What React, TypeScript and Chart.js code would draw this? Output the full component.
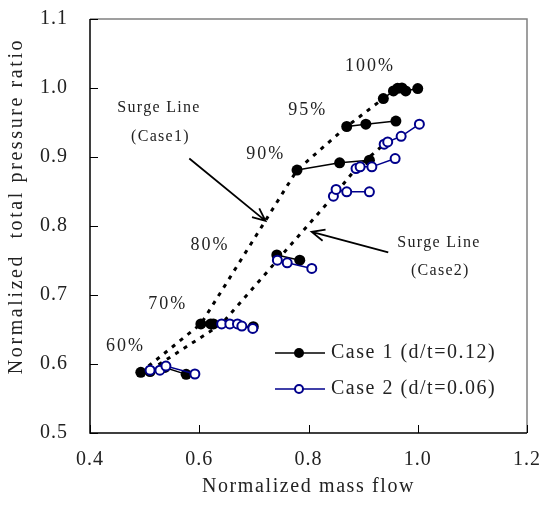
import React, { useEffect, useRef } from "react";
import { Chart, registerables } from "chart.js";

Chart.register(...registerables);

const FONT = '"Liberation Serif", "Times New Roman", serif';
const NAVY = "#00008c";

// Axis ticks
const xTickValues = [0.4, 0.6, 0.8, 1.0, 1.2];
const yTickValues = [0.5, 0.6, 0.7, 0.8, 0.9, 1.0, 1.1];

// Case 1 (d/t=0.12) speed lines: [mass flow, pressure ratio]
const case1Speed60: [number, number][] = [[0.493, 0.588], [0.51, 0.589], [0.537, 0.595], [0.576, 0.585]];
const case1Speed70: [number, number][] = [[0.603, 0.658], [0.621, 0.658], [0.626, 0.658], [0.699, 0.654]];
const case1Speed80: [number, number][] = [[0.742, 0.758], [0.784, 0.7505]];
const case1Speed90: [number, number][] = [[0.779, 0.881], [0.857, 0.8915], [0.9115, 0.8953]];
const case1Speed95: [number, number][] = [[0.87, 0.9442], [0.905, 0.9475], [0.96, 0.952]];
const case1Speed100: [number, number][] = [[0.937, 0.9847], [0.9555, 0.9957], [0.963, 0.9995], [0.971, 1.0], [0.978, 0.9957], [1.0, 0.9992]];

// Case 2 (d/t=0.06) speed lines
const case2Speed60: [number, number][] = [[0.51, 0.591], [0.528, 0.591], [0.539, 0.597], [0.592, 0.5855]];
const case2Speed70: [number, number][] = [[0.641, 0.658], [0.656, 0.658], [0.67, 0.658], [0.678, 0.655], [0.698, 0.6516]];
const case2Speed80: [number, number][] = [[0.743, 0.7505], [0.761, 0.7466], [0.806, 0.7385]];
const case2Speed85: [number, number][] = [[0.8456, 0.8432], [0.8505, 0.853], [0.87, 0.8495], [0.9115, 0.8495]];
const case2Speed90: [number, number][] = [[0.887, 0.8833], [0.8945, 0.8857], [0.916, 0.8857], [0.9586, 0.8978]];
const case2Speed100: [number, number][] = [[0.9385, 0.9185], [0.945, 0.9219], [0.9696, 0.93], [1.003, 0.9475]];

// Surge lines
const surgeCase1: [number, number][] = [[0.493, 0.588], [0.603, 0.658], [0.779, 0.881], [0.87, 0.9442], [0.937, 0.9847]];
const surgeCase2: [number, number][] = [[0.51, 0.591], [0.641, 0.658], [0.743, 0.7505], [0.8456, 0.8432], [0.887, 0.8833], [0.9385, 0.9185]];

// Speed labels (text and anchor in data units)
const speedLabels = ["60%", "70%", "80%", "90%", "95%", "100%"];
const speedLabelX = [0.465, 0.5424, 0.6197, 0.7218, 0.7985, 0.9126];
const speedLabelY = [0.626, 0.6868, 0.7723, 0.904, 0.9678, 1.0315];

// Surge line callouts (data units)
const surge1Text = ["Surge Line", "(Case1)"];
const surge1TextX = [0.5263, 0.529];
const surge1TextY = [0.9707, 0.929];
const surge1Arrow = [[0.5818, 0.8978], [0.7213, 0.8075]];
const surge2Text = ["Surge Line", "(Case2)"];
const surge2TextX = [1.0389, 1.0413];
const surge2TextY = [0.7756, 0.735];
const surge2Arrow = [[0.946, 0.7617], [0.8059, 0.7915]];

const legendLabels = ["Case 1 (d/t=0.12)", "Case 2 (d/t=0.06)"];
const xTitle = "Normalized mass flow";
const yTitle = "Normalized  total pressure ratio";

const toXY = (arr: [number, number][]) => arr.map(([x, y]) => ({ x, y }));

function setSpacing(ctx: any, s: string) {
  try {
    ctx.letterSpacing = s;
  } catch (e) {}
}

const decorPlugin = {
  id: "decor",
  beforeUpdate(chart: any) {
    setSpacing(chart.ctx, "1px");
  },
  beforeDraw(chart: any) {
    setSpacing(chart.ctx, "1px");
  },
  afterDraw(chart: any) {
    const { ctx, chartArea, scales } = chart;
    const { left, right, top, bottom } = chartArea;
    const xs = scales.x;
    const ys = scales.y;
    ctx.save();
    // frame
    ctx.lineWidth = 1.5;
    ctx.strokeStyle = "#808080";
    ctx.beginPath();
    ctx.moveTo(left, top);
    ctx.lineTo(right, top);
    ctx.lineTo(right, bottom);
    ctx.stroke();
    ctx.strokeStyle = "#000";
    ctx.beginPath();
    ctx.moveTo(left, top);
    ctx.lineTo(left, bottom);
    ctx.lineTo(right, bottom);
    ctx.stroke();
    // inward ticks
    ctx.lineWidth = 1;
    ctx.beginPath();
    yTickValues.forEach((v) => {
      const py = Math.round(ys.getPixelForValue(v)) + 0.5;
      ctx.moveTo(left, py);
      ctx.lineTo(left + 8, py);
    });
    xTickValues.forEach((v) => {
      const px = Math.round(xs.getPixelForValue(v)) + 0.5;
      ctx.moveTo(px, bottom);
      ctx.lineTo(px, bottom - 8);
    });
    ctx.stroke();

    ctx.fillStyle = "#222";
    ctx.textBaseline = "middle";
    ctx.textAlign = "center";

    // speed labels
    ctx.font = `18px ${FONT}`;
    setSpacing(ctx, "2px");
    speedLabels.forEach((t, i) => {
      ctx.fillText(t, xs.getPixelForValue(speedLabelX[i]), ys.getPixelForValue(speedLabelY[i]));
    });

    // surge callouts
    ctx.font = `16px ${FONT}`;
    setSpacing(ctx, "1.3px");
    surge1Text.forEach((t, i) => ctx.fillText(t, xs.getPixelForValue(surge1TextX[i]), ys.getPixelForValue(surge1TextY[i])));
    surge2Text.forEach((t, i) => ctx.fillText(t, xs.getPixelForValue(surge2TextX[i]), ys.getPixelForValue(surge2TextY[i])));

    const arrow = (a: number[][]) => {
      const x1 = xs.getPixelForValue(a[0][0]);
      const y1 = ys.getPixelForValue(a[0][1]);
      const x2 = xs.getPixelForValue(a[1][0]);
      const y2 = ys.getPixelForValue(a[1][1]);
      const ang = Math.atan2(y2 - y1, x2 - x1);
      const hl = 14;
      const spread = 0.42;
      ctx.strokeStyle = "#000";
      ctx.lineWidth = 1.8;
      ctx.beginPath();
      ctx.moveTo(x1, y1);
      ctx.lineTo(x2, y2);
      ctx.moveTo(x2 - hl * Math.cos(ang - spread), y2 - hl * Math.sin(ang - spread));
      ctx.lineTo(x2, y2);
      ctx.lineTo(x2 - hl * Math.cos(ang + spread), y2 - hl * Math.sin(ang + spread));
      ctx.stroke();
    };
    arrow(surge1Arrow);
    arrow(surge2Arrow);

    // legend
    ctx.font = `20px ${FONT}`;
    setSpacing(ctx, "1.5px");
    ctx.textAlign = "left";
    const lx0 = left + 185;
    const lx1 = left + 235;
    const rows = [bottom - 80, bottom - 44];
    rows.forEach((ly, i) => {
      const col = i === 0 ? "#000" : NAVY;
      ctx.strokeStyle = col;
      ctx.lineWidth = 1.5;
      ctx.beginPath();
      ctx.moveTo(lx0, ly);
      ctx.lineTo(lx1, ly);
      ctx.stroke();
      ctx.beginPath();
      ctx.arc((lx0 + lx1) / 2 - 1, ly, i === 0 ? 5 : 4, 0, Math.PI * 2);
      if (i === 0) {
        ctx.fillStyle = "#000";
        ctx.fill();
      } else {
        ctx.fillStyle = "#fff";
        ctx.fill();
        ctx.lineWidth = 2;
        ctx.stroke();
      }
      ctx.fillStyle = "#222";
      ctx.fillText(legendLabels[i], lx1 + 6, ly);
    });

    // axis titles
    ctx.textAlign = "center";
    ctx.font = `20px ${FONT}`;
    setSpacing(ctx, "1.6px");
    ctx.fillText(xTitle, (left + right) / 2, bottom + 54);
    setSpacing(ctx, "2.6px");
    ctx.save();
    ctx.translate(17, 206);
    ctx.rotate(-Math.PI / 2);
    ctx.fillText(yTitle, 0, 0);
    ctx.restore();

    ctx.restore();
  },
};

export default function App() {
  const ref = useRef<HTMLCanvasElement | null>(null);
  useEffect(() => {
    if (!ref.current) return;
    const case1Lines = [case1Speed60, case1Speed70, case1Speed80, case1Speed90, case1Speed95, case1Speed100];
    const case2Lines = [case2Speed60, case2Speed70, case2Speed80, case2Speed85, case2Speed90, case2Speed100];
    const datasets: any[] = [];
    case2Lines.forEach((d, i) =>
      datasets.push({
        label: i === 0 ? legendLabels[1] : "",
        data: toXY(d),
        showLine: true,
        borderColor: NAVY,
        borderWidth: 1.5,
        pointRadius: 4.5,
        pointBackgroundColor: "#fff",
        pointBorderColor: NAVY,
        pointBorderWidth: 2,
        order: 0,
      })
    );
    case1Lines.forEach((d, i) =>
      datasets.push({
        label: i === 0 ? legendLabels[0] : "",
        data: toXY(d),
        showLine: true,
        borderColor: "#000",
        borderWidth: 1.5,
        pointRadius: 5.5,
        pointBackgroundColor: "#000",
        pointBorderColor: "#000",
        pointBorderWidth: 0,
        order: 1,
      })
    );
    [surgeCase1, surgeCase2].forEach((d) =>
      datasets.push({
        label: "Surge Line",
        data: toXY(d),
        showLine: true,
        borderColor: "#000",
        borderWidth: 3,
        borderDash: [4, 6],
        pointRadius: 0,
        order: 2,
      })
    );

    const chart = new Chart(ref.current, {
      type: "scatter",
      data: { datasets },
      options: {
        animation: false,
        responsive: false,
        devicePixelRatio: 1,
        layout: { padding: { top: 19, right: 18, left: 0, bottom: 0 } },
        plugins: { legend: { display: false }, tooltip: { enabled: false } },
        scales: {
          x: {
            type: "linear",
            min: 0.4,
            max: 1.2,
            afterBuildTicks: (s: any) => {
              s.ticks = xTickValues.map((v) => ({ value: v }));
            },
            afterFit: (s: any) => {
              s.height = 80;
              s.paddingLeft = 0;
              s.paddingRight = 0;
            },
            ticks: {
              callback: (v: any) => Number(v).toFixed(1),
              font: { family: FONT, size: 20 },
              color: "#222",
              padding: 15,
              maxRotation: 0,
              autoSkip: false,
            },
            grid: { display: false, drawTicks: false },
            border: { display: false },
          },
          y: {
            type: "linear",
            min: 0.5,
            max: 1.1,
            afterBuildTicks: (s: any) => {
              s.ticks = yTickValues.map((v) => ({ value: v }));
            },
            afterFit: (s: any) => {
              s.width = 90;
              s.paddingTop = 0;
              s.paddingBottom = 0;
            },
            ticks: {
              callback: (v: any) => Number(v).toFixed(1),
              font: { family: FONT, size: 20 },
              color: "#222",
              padding: 22,
              autoSkip: false,
            },
            grid: { display: false, drawTicks: false },
            border: { display: false },
          },
        },
      },
      plugins: [decorPlugin],
    });
    return () => chart.destroy();
  }, []);
  return (
    <div style={{ position: "absolute", left: 0, top: 0, width: 545, height: 513, background: "#fff" }}>
      <canvas ref={ref} width={545} height={513} />
    </div>
  );
}
